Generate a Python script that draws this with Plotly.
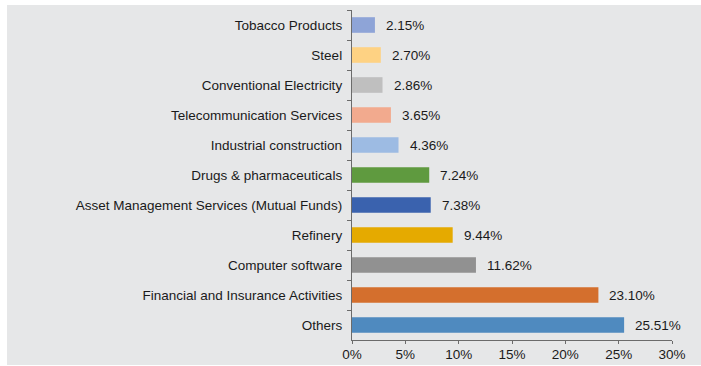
import plotly.graph_objects as go

categories = [
    "Tobacco Products",
    "Steel",
    "Conventional Electricity",
    "Telecommunication Services",
    "Industrial construction",
    "Drugs & pharmaceuticals",
    "Asset Management Services (Mutual Funds)",
    "Refinery",
    "Computer software",
    "Financial and Insurance Activities",
    "Others",
]
values = [2.15, 2.70, 2.86, 3.65, 4.36, 7.24, 7.38, 9.44, 11.62, 23.10, 25.51]
colors = [
    "#8EA4D7", "#FED283", "#BFBFBF", "#F2AA8E", "#9DBBE3", "#5F9A3F",
    "#3A62AE", "#E5AA00", "#919191", "#D46F2D", "#4F8ABF",
]
x_ticks = [0, 5, 10, 15, 20, 25, 30]

FONT = "Liberation Sans, Arial, sans-serif"
FS = 13.5

fig = go.Figure()
fig.add_trace(go.Bar(
    x=values, y=categories, orientation="h",
    marker=dict(color=colors, line=dict(width=0)),
    width=0.52,
    hoverinfo="skip",
))

for c, v in zip(categories, values):
    fig.add_annotation(
        x=v, y=c, xref="x", yref="y", text=f"{v:.2f}%",
        showarrow=False, xanchor="left", yanchor="middle", xshift=9,
        font=dict(family=FONT, size=FS, color="#1a1a1a"),
    )

W, H = 701, 366
L, R, T, B = 352, 29, 10, 26
pw, ph = W - L - R, H - T - B
fig.add_shape(
    type="rect", xref="paper", yref="paper", layer="below",
    x0=(7 - L) / pw, x1=(W - L) / pw,
    y0=-(365 - (H - B)) / ph, y1=1 + (T - 5) / ph,
    fillcolor="#E6E7E8", line=dict(width=0),
)

fig.update_layout(
    width=W, height=H,
    margin=dict(l=L, r=R, t=T, b=B, autoexpand=False),
    paper_bgcolor="white", plot_bgcolor="#E6E7E8",
    showlegend=False,
    font=dict(family=FONT, size=FS, color="#1a1a1a"),
)
fig.update_xaxes(
    range=[0, 30], tickvals=x_ticks, ticktext=[f"{t}%" for t in x_ticks],
    showgrid=False, zeroline=False, showline=True, linecolor="#6b6b6b", linewidth=1.3,
    ticks="outside", ticklen=3, tickcolor="#6b6b6b",
    ticklabelstandoff=-1,
    automargin=False,
    tickfont=dict(size=FS),
)
fig.update_yaxes(
    autorange="reversed", showgrid=False, showline=True, linecolor="#6b6b6b", linewidth=1.3,
    ticks="outside", ticklen=4, tickcolor="#6b6b6b", tickson="boundaries",
    ticklabelstandoff=6, automargin=False,
    tickfont=dict(size=FS),
)

fig.write_html("out.html")
